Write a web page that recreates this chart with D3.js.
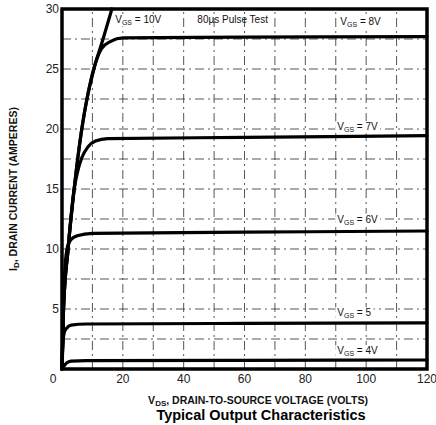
<!DOCTYPE html>
<html>
<head>
<meta charset="utf-8">
<script src="https://cdn.jsdelivr.net/npm/d3@7"></script>
<style>
  body { margin: 0; background: #fff; }
  svg { display: block; font-family: "Liberation Sans", Arial, sans-serif; }
</style>
</head>
<body>
<div id="chart"></div>
<script>
// drain current curves, [VDS, ID]
const vgs10 = [[0, 0], [0.5, 5], [2, 10], [4, 15], [6.5, 20], [8.2, 22.5], [10.5, 25], [13.5, 27.5], [16.4, 30]];
const vgs8 = [[0, 0], [0.5, 5], [2, 10], [4, 15], [6.5, 20], [9, 23.5], [11, 25.5], [13, 26.7], [16, 27.3], [20, 27.6], [60, 27.65], [120, 27.7]];
const vgs7 = [[0, 0], [0.5, 5], [2, 10], [4, 15], [5, 16.3], [6.5, 17.6], [8.5, 18.5], [11, 19.0], [15, 19.2], [60, 19.3], [120, 19.45]];
const vgs6 = [[0, 0], [0.4, 5], [1, 8.5], [1.8, 10.2], [3, 10.8], [5, 11.1], [10, 11.3], [60, 11.4], [120, 11.5]];
const vgs5 = [[0, 0], [0.3, 2], [0.7, 3], [1.5, 3.4], [3, 3.65], [8, 3.75], [60, 3.8], [120, 3.85]];
const vgs4 = [[0, 0], [1.5, 0.5], [3, 0.65], [8, 0.7], [60, 0.72], [120, 0.75]];

const xTicks = [20, 40, 60, 80, 100, 120];
const yTicks = [5, 10, 15, 20, 25, 30];
const xGrid = [10, 20, 30, 40, 50, 60, 70, 80, 90, 100, 110];
const yGrid = [2.5, 5, 7.5, 10, 12.5, 15, 17.5, 20, 22.5, 25, 27.5];

// curve labels: [subscripted name, value text, anchor VDS, anchor ID]
const curveLabels = [
  ["GS", " = 10V", 17.5, 28.8],
  ["GS", " = 8V", 91.5, 28.7],
  ["GS", " = 7V", 90.5, 19.9],
  ["GS", " = 6V", 90.5, 12.2],
  ["GS", " = 5", 90.5, 4.4],
  ["GS", " = 4V", 90.5, 1.25]
];

const W = 436, H = 425;
const m = { left: 62, top: 9, right: 427, bottom: 369 };

const svg = d3.select("#chart").append("svg")
  .attr("width", W).attr("height", H);

const x = d3.scaleLinear().domain([0, 120]).range([m.left, m.right]);
const y = d3.scaleLinear().domain([0, 30]).range([m.bottom, m.top]);

// dash-dot grid
const grid = svg.append("g")
  .attr("stroke", "#444").attr("stroke-width", 0.9)
  .attr("stroke-dasharray", "9,4,2,4");
grid.selectAll("line.v").data(xGrid).enter().append("line")
  .attr("x1", d => x(d)).attr("x2", d => x(d))
  .attr("y1", y(0)).attr("y2", y(30));
grid.selectAll("line.h").data(yGrid).enter().append("line")
  .attr("x1", x(0)).attr("x2", x(120))
  .attr("y1", d => y(d)).attr("y2", d => y(d));

// curve labels with white knock-out behind
const lab = svg.append("g").attr("font-size", 10).attr("fill", "#111");
curveLabels.forEach(([sub, val, vx, vy]) => {
  const t = lab.append("text").attr("x", x(vx)).attr("y", y(vy));
  t.append("tspan").text("V");
  t.append("tspan").attr("font-size", 7).attr("dy", 2).text(sub);
  t.append("tspan").attr("dy", -2).text(val);
  const b = t.node().getBBox();
  lab.insert("rect", "text")
    .attr("x", b.x - 2).attr("y", b.y).attr("width", b.width + 4).attr("height", b.height)
    .attr("fill", "#fff");
});
lab.append("text").attr("x", x(44.5)).attr("y", y(28.8)).text("80µs Pulse Test");

// curves
const line = d3.line().x(d => x(d[0])).y(d => y(d[1])).curve(d3.curveMonotoneX);
svg.append("g")
  .attr("fill", "none").attr("stroke", "#000").attr("stroke-width", 3.2)
  .attr("stroke-linejoin", "round").attr("stroke-linecap", "round")
  .selectAll("path").data([vgs4, vgs5, vgs6, vgs7, vgs8, vgs10]).enter().append("path")
  .attr("d", line);

// frame
svg.append("rect")
  .attr("x", m.left).attr("y", m.top)
  .attr("width", m.right - m.left).attr("height", m.bottom - m.top)
  .attr("fill", "none").attr("stroke", "#000").attr("stroke-width", 3.5);

// tick labels
const tl = svg.append("g").attr("font-size", 12).attr("fill", "#222");
tl.selectAll("text.x").data(xTicks).enter().append("text")
  .attr("x", d => x(d)).attr("y", 383).attr("text-anchor", "middle").text(d => d);
tl.selectAll("text.y").data(yTicks).enter().append("text")
  .attr("x", 59).attr("y", d => y(d) + 4).attr("text-anchor", "end").text(d => d);
tl.append("text").attr("x", 53).attr("y", 383).attr("text-anchor", "middle").text("0");

// axis titles
const yt = svg.append("text")
  .attr("transform", "translate(17,189) rotate(-90)")
  .attr("text-anchor", "middle").attr("font-size", 10.5).attr("font-weight", "bold").attr("fill", "#111");
yt.append("tspan").text("I");
yt.append("tspan").attr("font-size", 8).attr("dy", 2).text("D");
yt.append("tspan").attr("dy", -2).text(", DRAIN CURRENT (AMPERES)");

const xt = svg.append("text")
  .attr("x", 258).attr("y", 404)
  .attr("text-anchor", "middle").attr("font-size", 10.5).attr("font-weight", "bold").attr("fill", "#111");
xt.append("tspan").text("V");
xt.append("tspan").attr("font-size", 8).attr("dy", 2).text("DS");
xt.append("tspan").attr("dy", -2).text(", DRAIN-TO-SOURCE VOLTAGE (VOLTS)");

svg.append("text")
  .attr("x", 261).attr("y", 420)
  .attr("text-anchor", "middle").attr("font-size", 14.5).attr("font-weight", "bold").attr("fill", "#000")
  .text("Typical Output Characteristics");
</script>
</body>
</html>
